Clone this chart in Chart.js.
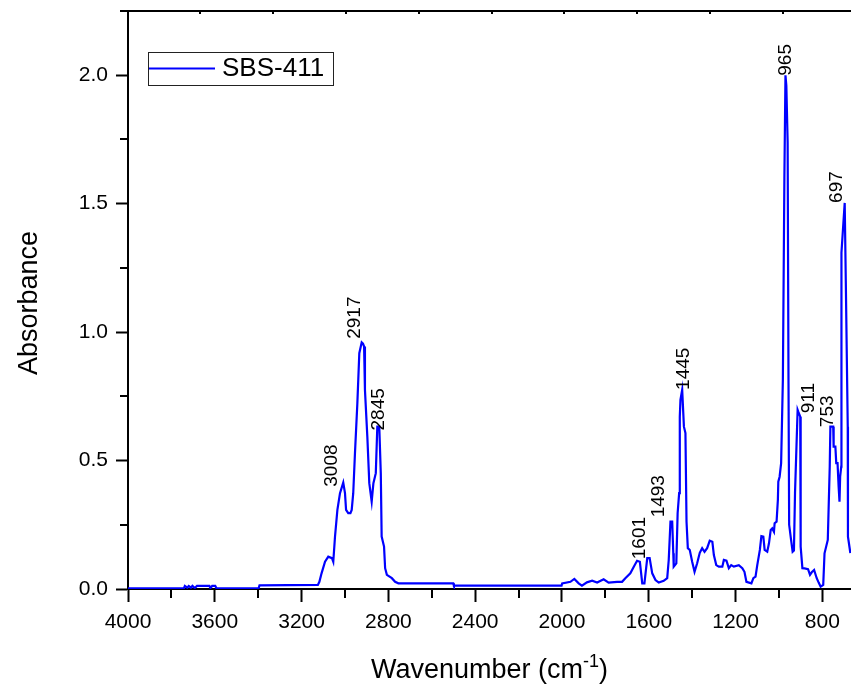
<!DOCTYPE html>
<html lang="en">
<head>
<meta charset="UTF-8">
<title>SBS-411 - FTIR</title>
<script src="https://cdn.jsdelivr.net/npm/chart.js"></script>
<style>
  html, body { margin: 0; padding: 0; background: #fff; }
  #wrap { width: 851px; height: 694px; }
</style>
</head>
<body>
<div id="wrap"><canvas id="chartCanvas" width="851" height="694"></canvas></div>
<script>
// Spectrum (wavenumber in cm-1, descending)
const wavenumbers = [
  4000, 3742, 3738, 3727, 3720, 3710, 3703, 3692, 3682, 3625, 3620, 3612, 3598, 3592,
  3398, 3394, 3125, 3118, 3108, 3092, 3077, 3060, 3054, 3046, 3035, 3023, 3008, 3000,
  2995, 2985, 2975, 2969, 2962, 2954, 2943, 2934, 2923, 2917, 2912, 2908, 2897, 2888,
  2877, 2869, 2858, 2851, 2842, 2835, 2831, 2820, 2815, 2807, 2784, 2769, 2754, 2501,
  2498, 2002, 1999, 1961, 1943, 1923, 1908, 1885, 1861, 1838, 1808, 1785, 1746, 1723,
  1708, 1685, 1669, 1654, 1641, 1630, 1620, 1607, 1596, 1584, 1569, 1554, 1531, 1515,
  1508, 1500, 1492, 1487, 1485, 1473, 1467, 1460, 1457, 1454, 1446, 1443, 1438, 1431,
  1426, 1420, 1411, 1400, 1389, 1377, 1365, 1354, 1343, 1331, 1319, 1307, 1300, 1289,
  1277, 1261, 1254, 1242, 1231, 1220, 1208, 1185, 1169, 1159, 1150, 1127, 1118, 1108,
  1100, 1088, 1081, 1072, 1066, 1054, 1046, 1038, 1031, 1023, 1020, 1011, 1005, 1003,
  997, 990, 982, 975, 970, 966, 960, 956, 953, 944, 937, 931, 926, 914, 911, 902, 900,
  892, 882, 866, 857, 849, 838, 826, 817, 808, 796, 790, 775, 766, 763, 750, 748, 740,
  736, 730, 725, 721, 718, 713, 712, 697, 692, 683, 682, 671
];
const absorbance = [
  0.003, 0.003, 0.012, 0.005, 0.012, 0.005, 0.012, 0.004, 0.012, 0.012, 0.004, 0.012, 0.012, 0.003,
  0.003, 0.014, 0.016, 0.028, 0.061, 0.106, 0.126, 0.120, 0.106, 0.204, 0.308, 0.373, 0.414, 0.373,
  0.308, 0.295, 0.295, 0.308, 0.373, 0.529, 0.723, 0.918, 0.960, 0.955, 0.944, 0.775, 0.593, 0.412,
  0.340, 0.412, 0.451, 0.632, 0.632, 0.451, 0.204, 0.165, 0.081, 0.055, 0.042, 0.028, 0.022, 0.022,
  0.013, 0.013, 0.022, 0.028, 0.039, 0.022, 0.013, 0.026, 0.032, 0.025, 0.038, 0.025, 0.028, 0.028,
  0.042, 0.061, 0.087, 0.110, 0.106, 0.022, 0.022, 0.120, 0.120, 0.061, 0.035, 0.025, 0.032, 0.042,
  0.113, 0.262, 0.262, 0.139, 0.087, 0.100, 0.295, 0.373, 0.671, 0.736, 0.775, 0.775, 0.632, 0.607,
  0.262, 0.159, 0.152, 0.106, 0.067, 0.100, 0.141, 0.159, 0.145, 0.159, 0.188, 0.184, 0.132, 0.093,
  0.087, 0.087, 0.113, 0.110, 0.081, 0.093, 0.087, 0.093, 0.081, 0.067, 0.028, 0.022, 0.042, 0.048,
  0.093, 0.152, 0.206, 0.204, 0.152, 0.145, 0.178, 0.230, 0.236, 0.223, 0.256, 0.262, 0.347, 0.418,
  0.437, 0.490, 0.814, 1.600, 2.000, 1.960, 1.740, 0.800, 0.250, 0.190, 0.145, 0.150, 0.374, 0.697, 0.690, 0.671, 0.165,
  0.081, 0.080, 0.077, 0.055, 0.065, 0.074, 0.042, 0.025, 0.009, 0.016, 0.139, 0.191, 0.476, 0.632, 0.632, 0.554, 0.554,
  0.490, 0.490, 0.398, 0.340, 0.437, 0.476, 1.309, 1.503, 1.200, 0.632, 0.204, 0.140
];

const seriesName = 'SBS-411';

const xTicks = [4000, 3600, 3200, 2800, 2400, 2000, 1600, 1200, 800];
const xMinorTicks = [3800, 3400, 3000, 2600, 2200, 1800, 1400, 1000];
const yTicks = [0, 0.5, 1.0, 1.5, 2.0];
const yMinorTicks = [0.25, 0.75, 1.25, 1.75, 2.25];
const topTicks = [3666, 3331, 2995, 2660, 2324, 1989, 1653, 1318, 982];

// peak annotations: text, anchor wavenumber, anchor absorbance
const peakNames = ['3008', '2917', '2845', '1601', '1493', '1445', '965', '911', '753', '697'];
const peakLabelX = [3038, 2931, 2820, 1618, 1531, 1415, 943, 838, 749, 711];
const peakLabelY = [0.398, 0.974, 0.617, 0.116, 0.279, 0.775, 1.998, 0.684, 0.630, 1.503];

const FONT = "'Liberation Sans', Arial, sans-serif";

const points = wavenumbers.map((w, i) => ({ x: w, y: absorbance[i] }));

const extras = {
  id: 'extras',
  afterDraw(chart) {
    const ctx = chart.ctx;
    const xs = chart.scales.x, ys = chart.scales.y;
    const area = chart.chartArea;
    ctx.save();
    ctx.strokeStyle = '#000';
    ctx.lineWidth = 2;

    // top frame line + small inner ticks
    ctx.beginPath();
    ctx.moveTo(area.left - 8, area.top);
    ctx.lineTo(area.right, area.top);
    topTicks.forEach(w => {
      const px = Math.round(xs.getPixelForValue(w));
      ctx.moveTo(px, area.top);
      ctx.lineTo(px, area.top + 3);
    });
    // minor ticks
    xMinorTicks.forEach(w => {
      const px = Math.round(xs.getPixelForValue(w));
      ctx.moveTo(px, area.bottom);
      ctx.lineTo(px, area.bottom + 9);
    });
    yMinorTicks.forEach(v => {
      const py = Math.round(ys.getPixelForValue(v));
      ctx.moveTo(area.left, py);
      ctx.lineTo(area.left - 8, py);
    });
    ctx.stroke();

    // legend
    ctx.lineWidth = 1;
    ctx.strokeStyle = '#222';
    ctx.strokeRect(148.5, 52.5, 185, 33);
    ctx.strokeStyle = '#0000ff';
    ctx.lineWidth = 2;
    ctx.beginPath();
    ctx.moveTo(149, 68.5);
    ctx.lineTo(215, 68.5);
    ctx.stroke();
    ctx.fillStyle = '#000';
    ctx.font = '26px ' + FONT;
    ctx.textAlign = 'left';
    ctx.textBaseline = 'middle';
    ctx.fillText(seriesName, 222, 69);

    // peak labels (rotated)
    ctx.font = '19px ' + FONT;
    ctx.textBaseline = 'alphabetic';
    peakNames.forEach((t, i) => {
      const px = xs.getPixelForValue(peakLabelX[i]);
      const py = ys.getPixelForValue(peakLabelY[i]);
      ctx.save();
      ctx.translate(px, py);
      ctx.rotate(-Math.PI / 2);
      ctx.textAlign = 'left';
      ctx.fillText(t, 0, 0);
      ctx.restore();
    });

    // y title
    ctx.font = '27px ' + FONT;
    ctx.save();
    ctx.translate(36.5, (area.top + area.bottom) / 2 + 3);
    ctx.rotate(-Math.PI / 2);
    ctx.textAlign = 'center';
    ctx.fillText('Absorbance', 0, 0);
    ctx.restore();

    // x title with superscript
    const main = 'Wavenumber (cm', sup = '-1', close = ')';
    ctx.font = '27px ' + FONT;
    const w1 = ctx.measureText(main).width;
    const w3 = ctx.measureText(close).width;
    ctx.font = '18px ' + FONT;
    const w2 = ctx.measureText(sup).width;
    let x0 = (area.left + area.right) / 2 - (w1 + w2 + w3) / 2;
    const base = 678;
    ctx.textAlign = 'left';
    ctx.font = '27px ' + FONT;
    ctx.fillText(main, x0, base);
    ctx.font = '18px ' + FONT;
    ctx.fillText(sup, x0 + w1, base - 11);
    ctx.font = '27px ' + FONT;
    ctx.fillText(close, x0 + w1 + w2, base);
    ctx.restore();
  }
};

const ctx = document.getElementById('chartCanvas').getContext('2d');
const chart = new Chart(ctx, {
  type: 'line',
  data: {
    datasets: [{
      label: seriesName,
      data: points,
      borderColor: '#0000ff',
      borderWidth: 2.2,
      pointRadius: 0,
      tension: 0,
      fill: false
    }]
  },
  options: {
    responsive: false,
    animation: false,
    devicePixelRatio: 1,
    layout: { padding: { top: 11, left: 0, right: 0, bottom: 0 } },
    plugins: {
      legend: { display: false },
      tooltip: { enabled: false }
    },
    scales: {
      x: {
        type: 'linear',
        reverse: true,
        min: 668,
        max: 4000,
        afterBuildTicks: s => { s.ticks = xTicks.map(v => ({ value: v })); },
        afterFit: s => { s.height = 105; s.paddingLeft = 0; s.paddingRight = 0; },
        ticks: {
          autoSkip: false,
          maxRotation: 0,
          padding: 8,
          color: '#000',
          font: { family: FONT, size: 21 },
          callback: v => String(v)
        },
        grid: { drawOnChartArea: false, drawTicks: true, tickLength: 13, tickWidth: 2, tickColor: '#000', color: '#000' },
        border: { display: true, color: '#000', width: 2 }
      },
      y: {
        min: 0,
        max: 2.25,
        afterBuildTicks: s => { s.ticks = yTicks.map(v => ({ value: v })); },
        afterFit: s => { s.width = 128; s.paddingTop = 0; s.paddingBottom = 0; },
        ticks: {
          padding: 8,
          color: '#000',
          font: { family: FONT, size: 21 },
          callback: v => v.toFixed(1)
        },
        grid: { drawOnChartArea: false, drawTicks: true, tickLength: 12, tickWidth: 2, tickColor: '#000', color: '#000' },
        border: { display: true, color: '#000', width: 2 }
      }
    }
  },
  plugins: [extras]
});
</script>
</body>
</html>
